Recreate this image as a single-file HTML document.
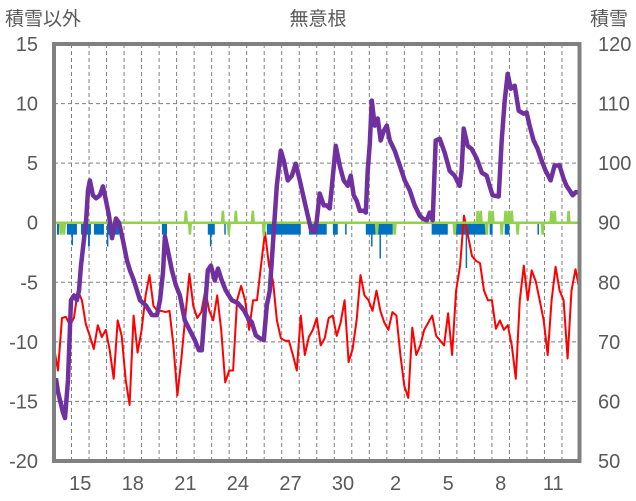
<!DOCTYPE html>
<html><head><meta charset="utf-8">
<style>
html,body{margin:0;padding:0;background:#fff;}
svg{display:block;font-family:"Liberation Sans","Noto Sans CJK JP",sans-serif;}
</style></head>
<body>
<svg id="chart" width="636" height="501" viewBox="0 0 636 501" xmlns="http://www.w3.org/2000/svg">
<text x="318" y="25" text-anchor="middle" font-size="19" fill="#595959">無意根</text>
<text x="5" y="25" font-size="19" fill="#595959">積雪以外</text>
<text x="590" y="25" font-size="19" fill="#595959">積雪</text>
<g id="grid"></g>
<g id="marks"></g>
<rect x="54" y="44" width="525.5" height="417" fill="none" stroke="#808080" stroke-width="4"/>
<g id="axes"></g>
</svg>
<script>
// ---- data ----
const dayLabels = ["15","18","21","24","27","30","2","5","8","11"];
const dayLabelPos = [1,4,7,10,13,16,19,22,25,28];
const leftTicks = [15,10,5,0,-5,-10,-15,-20];
const rightTicks = [120,110,100,90,80,70,60,50];

const snowDays = [0.11,0.23,0.51,0.63,0.80,0.97,1.14,1.31,1.43,1.54,1.83,1.94,2.05,2.22,2.40,2.62,2.80,2.97,3.14,3.31,3.54,3.71,3.94,4.16,4.34,4.56,4.91,5.25,5.59,5.88,6.05,6.22,6.33,6.50,6.73,6.96,7.19,7.47,7.76,8.04,8.27,8.44,8.61,8.78,8.96,9.18,9.36,9.58,9.81,10.15,10.50,10.84,11.07,11.29,11.52,11.75,11.98,12.15,12.32,12.55,12.72,12.95,13.12,13.35,13.58,13.80,14.03,14.26,14.49,14.66,14.89,15.00,15.17,15.40,15.57,15.74,15.92,16.09,16.31,16.54,16.77,16.94,17.11,17.28,17.46,17.68,17.80,17.91,18.03,18.14,18.31,18.48,18.65,18.82,19.00,19.17,19.45,19.74,20.02,20.31,20.59,20.88,21.05,21.28,21.45,21.62,21.79,22.02,22.30,22.59,22.87,23.16,23.27,23.39,23.62,23.84,24.13,24.42,24.70,24.87,25.04,25.39,25.56,25.73,25.90,26.07,26.30,26.53,26.81,26.98,27.15,27.38,27.61,27.84,28.07,28.35,28.58,28.86,29.09,29.26,29.44,29.61,29.78,29.95];
const snowDepth = [63.9,61.6,58.2,57.2,63.6,77.0,77.8,77.0,78.6,82.8,90.4,95.4,97.1,94.6,94.1,94.6,96.1,93.7,91.2,87.4,90.7,90.0,87.0,83.7,82.0,80.3,77.0,76.1,74.5,74.5,77.0,81.7,87.7,85.3,82.0,79.5,77.8,73.6,71.9,70.3,68.6,68.6,75.3,82.0,82.8,80.3,82.3,80.3,78.6,77.0,76.5,75.3,74.0,73.3,71.1,70.6,70.3,76.1,78.6,88.7,96.2,102.1,100.4,97.1,97.9,99.9,97.1,94.1,91.2,89.0,88.4,90.4,94.9,92.9,92.9,92.4,97.9,102.9,99.6,97.1,96.2,97.9,94.6,93.7,92.0,92.0,91.7,98.7,103.3,110.5,106.3,107.5,103.8,105.4,106.3,103.8,102.1,99.6,97.1,95.4,92.9,91.2,90.7,90.4,91.7,90.4,103.8,104.1,101.8,98.7,97.9,96.2,98.7,105.8,102.9,102.4,100.8,98.4,97.9,96.2,94.6,94.4,103.8,110.5,115.0,112.5,113.0,108.8,108.3,108.5,106.3,103.8,102.4,100.4,98.7,97.1,99.6,99.6,97.4,96.2,95.4,94.6,95.1,95.1];

const temperature = [-10.5,-12.4,-8.0,-7.9,-8.6,-8.0,-5.7,-6.5,-8.5,-9.5,-10.6,-8.6,-9.6,-9.0,-10.7,-13.1,-8.2,-9.5,-13.2,-15.3,-7.8,-10.9,-9.0,-6.1,-4.4,-7.0,-7.4,-7.4,-7.5,-7.4,-10.3,-14.5,-11.4,-7.8,-4.3,-7.0,-8.0,-7.5,-5.7,-7.4,-8.2,-6.1,-9.0,-13.4,-12.4,-12.4,-6.5,-5.3,-6.5,-9.0,-6.5,-6.5,-3.6,-0.8,-3.6,-4.9,-8.2,-9.7,-9.9,-9.9,-11.1,-12.4,-7.8,-11.1,-9.6,-9.0,-8.0,-10.3,-9.7,-8.0,-7.8,-9.5,-8.4,-6.5,-11.7,-10.6,-8.2,-4.4,-6.1,-6.5,-7.4,-5.7,-7.4,-8.4,-9.0,-7.5,-7.8,-11.1,-13.7,-14.7,-8.8,-11.1,-10.3,-9.0,-8.4,-7.8,-9.5,-9.9,-10.3,-7.6,-11.1,-5.7,-3.6,0.6,-1.1,-2.8,-3.2,-3.4,-5.7,-6.5,-6.5,-8.9,-8.2,-9.0,-8.6,-10.3,-13.1,-6.5,-3.6,-6.5,-4.0,-4.9,-6.5,-8.2,-11.1,-6.5,-3.7,-5.7,-6.5,-11.4,-5.7,-3.9,-5.7];
const tempStartDay = 0.0;
const tempEndDay = 30.0;

const precipStart = [0.17,0.74,1.54,2.28,3.02,3.42,6.16,8.78,9.72,12.15,14.55,15.92,16.62,17.80,21.56,22.87,24.87,25.73,27.60, 1.00,1.62,1.94,3.02,8.90,18.10,18.58,23.50];
const precipEnd   = [0.29,1.31,2.11,2.85,3.25,3.71,6.45,9.18,9.80,14.09,15.57,16.20,16.70,19.34,22.48,24.70,25.04,26.00,27.66, 1.06,1.71,2.05,3.09,8.97,18.17,18.65,23.57];
const precipValue = [-1,-1,-1,-1,-1,-1,-1,-1,-1,-1,-1,-1,-1,-1,-1,-1,-1,-1,-1, -1.9,-3.2,-2,-2,-2,-2,-3,-3.8];

const snowDiffDays = [0.40,0.57,7.53,7.76,9.64,9.98,10.38,11.35,11.98,18.43,19.45,22.87,24.19,24.36,24.70,24.87,25.04,25.56,25.78,25.96,26.13,26.47,27.90,28.40,28.58,29.38];
const snowDiff = [-1,-1,1,-1,1,-1,1,1,-1.1,-1,-1,-1,1,1,-1,1,1,-1,1,1,1,-1,-1,1,1,1];

// ---- scales ----
const X0=54, X1=579.5, YT=44, YB=461;
const DAYS=30;
const xs = d => X0 + d*(X1-X0)/DAYS;
const yL = v => YT + (15-v)*(YB-YT)/35;
const yR = v => YT + (120-v)*(YB-YT)/70;
const NS="http://www.w3.org/2000/svg";
function mk(tag, attrs, parent){const e=document.createElementNS(NS,tag);for(const k in attrs)e.setAttribute(k,attrs[k]);parent.appendChild(e);return e;}

const grid=document.getElementById('grid');
for(let k=1;k<DAYS;k++){
  const l=mk('line',{x1:xs(k),x2:xs(k),y1:YT,y2:YB,stroke:'#7f7f7f','stroke-width':1,'stroke-dasharray':'4,3'},grid);
  
  
}
leftTicks.forEach(v=>{
  if(v===15||v===-20) return;
  const l=mk('line',{x1:X0,x2:X1,y1:yL(v),y2:yL(v),stroke:'#7f7f7f','stroke-width':1,'stroke-dasharray':v===0?'none':'4,3'},grid);
  
  
});

const marks=document.getElementById('marks');
// precipitation bars
precipValue.forEach((v,i)=>{
  const x=xs(precipStart[i]), w=Math.max(1.5,xs(precipEnd[i])-x);
  const r=mk('rect',{x:x,y:yL(0),width:w,height:yL(v)-yL(0),fill:'#0070C0'},marks);
  
  
});
// temperature line
const tStep=(tempEndDay-tempStartDay)/(temperature.length-1);
const tp=temperature.map((v,i)=>xs(tempStartDay+i*tStep).toFixed(1)+','+yL(v).toFixed(1)).join(' ');
const tl=mk('polyline',{points:tp,fill:'none',stroke:'#FF0000','stroke-width':2,'stroke-linejoin':'round'},marks);


// snow diff line (green)
let gp=[[0,0]];
snowDiffDays.forEach((d,i)=>{gp.push([d-0.05,0]);gp.push([d,snowDiff[i]]);gp.push([d+0.05,0]);});
gp.push([DAYS,0]);
const gl=mk('polyline',{points:gp.map(p=>xs(p[0]).toFixed(1)+','+yL(p[1]).toFixed(1)).join(' '),fill:'none',stroke:'#92D050','stroke-width':2.5},marks);


// snow depth line
const sp=snowDepth.map((v,i)=>xs(snowDays[i]).toFixed(1)+','+yR(v).toFixed(1)).join(' ');
const sl=mk('polyline',{points:sp,fill:'none',stroke:'#7030A0','stroke-width':4.5,'stroke-linejoin':'round'},marks);



// axis labels
const axes=document.getElementById('axes');
leftTicks.forEach(v=>{
  const t=mk('text',{x:38,y:yL(v)+7,'text-anchor':'end','font-size':20,fill:'#595959'},axes);
  t.textContent=String(v);
  
  
});
rightTicks.forEach(v=>{
  const t=mk('text',{x:598,y:yR(v)+7,'font-size':20,fill:'#595959'},axes);
  t.textContent=String(v);
  
  
});
dayLabels.forEach((s,i)=>{
  const t=mk('text',{x:xs(dayLabelPos[i]+0.5),y:490,'text-anchor':'middle','font-size':20,fill:'#595959'},axes);
  t.textContent=s;
  
  
});
</script>
</body></html>
